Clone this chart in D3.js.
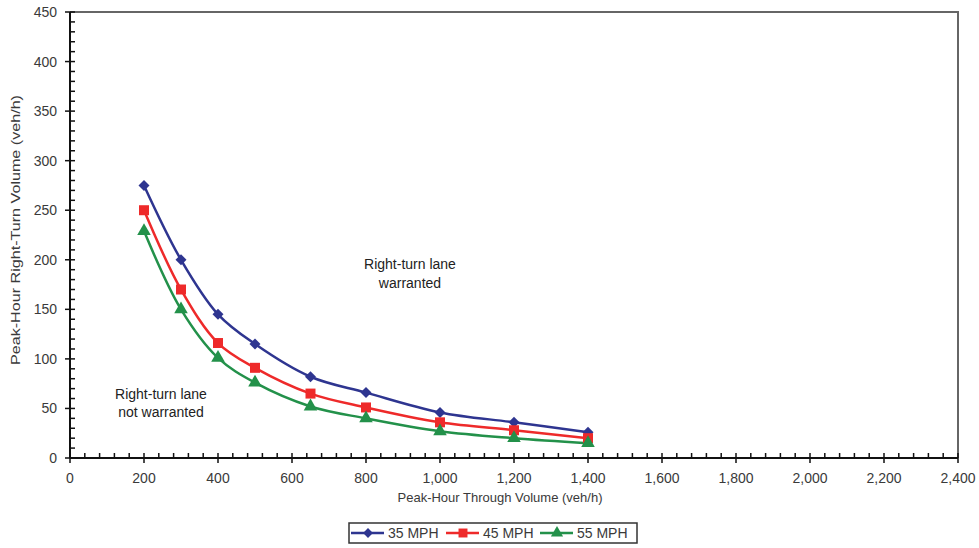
<!DOCTYPE html>
<html><head><meta charset="utf-8">
<script src="https://cdn.jsdelivr.net/npm/d3@7"></script>
<style>body{margin:0;background:#fff}svg{display:block;font-family:"Liberation Sans",Arial,sans-serif}</style>
</head><body><svg id="c" width="979" height="548"></svg>
<script>
const throughVolume = [200, 300, 400, 500, 650, 800, 1000, 1200, 1400];
const mph35 = [275, 200, 145, 115, 82, 66, 46, 36, 26];
const mph45 = [250, 170, 116, 91, 65, 51, 36, 28, 20];
const mph55 = [229, 150, 101, 76, 52, 40, 27, 20, 15];
const seriesNames = ["35 MPH", "45 MPH", "55 MPH"];
const xTicks = [0,200,400,600,800,1000,1200,1400,1600,1800,2000,2200,2400];
const yTicks = [0,50,100,150,200,250,300,350,400,450];

const svg = d3.select("#c");
const L=70, R=958, T=12, B=458;
const x = d3.scaleLinear().domain([0,2400]).range([L,R]);
const y = d3.scaleLinear().domain([0,450]).range([B,T]);
const txt = "#3a3a3a";

// frame
svg.append("path").attr("d",`M${L},${T}H${R}V${B}`).attr("fill","none").attr("stroke","#666").attr("stroke-width",2);

// y axis
const yMinor = d3.range(0,451,10).filter(v=>v%50!==0);
svg.append("g").selectAll("line").data(yMinor).join("line")
  .attr("x1",L).attr("x2",L+5).attr("y1",d=>y(d)).attr("y2",d=>y(d)).attr("stroke","#111").attr("stroke-width",1.5);
svg.append("g").selectAll("line").data(yTicks).join("line")
  .attr("x1",L-5).attr("x2",L+5).attr("y1",d=>y(d)).attr("y2",d=>y(d)).attr("stroke","#111").attr("stroke-width",1.5);
svg.append("g").selectAll("text").data(yTicks).join("text")
  .attr("x",L-13).attr("y",d=>y(d)+5).attr("text-anchor","end").attr("font-size",14).attr("fill",txt).text(d=>d);
// x axis
const xMinor = d3.range(0,2401,40).filter(v=>v%200!==0);
svg.append("g").selectAll("line").data(xMinor).join("line")
  .attr("y1",B).attr("y2",B-5).attr("x1",d=>x(d)).attr("x2",d=>x(d)).attr("stroke","#111").attr("stroke-width",1.5);
svg.append("g").selectAll("line").data(xTicks).join("line")
  .attr("y1",B-5).attr("y2",B+5).attr("x1",d=>x(d)).attr("x2",d=>x(d)).attr("stroke","#111").attr("stroke-width",1.5);
svg.append("g").selectAll("text").data(xTicks).join("text")
  .attr("x",d=>x(d)).attr("y",B+25).attr("text-anchor","middle").attr("font-size",14).attr("fill",txt).text(d=>d3.format(",")(d));
svg.append("line").attr("x1",L).attr("x2",L).attr("y1",T).attr("y2",B).attr("stroke","#111").attr("stroke-width",2);
svg.append("line").attr("x1",L).attr("x2",R).attr("y1",B).attr("y2",B).attr("stroke","#111").attr("stroke-width",2);

// titles
svg.append("text").attr("x",500).attr("y",502).attr("text-anchor","middle").attr("font-size",13).attr("fill",txt).text("Peak-Hour Through Volume (veh/h)");
svg.append("text").attr("transform","translate(20,230) rotate(-90)").attr("text-anchor","middle").attr("font-size",12.5)
  .attr("textLength",270).attr("lengthAdjust","spacingAndGlyphs").attr("fill",txt).text("Peak-Hour Right-Turn Volume (veh/h)");

// annotations
const ann = svg.append("g").attr("font-size",14).attr("fill","#222").attr("text-anchor","middle");
ann.append("text").attr("x",410).attr("y",269).text("Right-turn lane");
ann.append("text").attr("x",410).attr("y",288).text("warranted");
ann.append("text").attr("x",161).attr("y",399).text("Right-turn lane");
ann.append("text").attr("x",161).attr("y",417).text("not warranted");

// series
const series = [
  {name:seriesNames[0], vals:mph35, color:"#2e3590", sym:d3.symbolSquare, size:60, rot:45},
  {name:seriesNames[1], vals:mph45, color:"#ee2a2a", sym:d3.symbolSquare, size:100, rot:0},
  {name:seriesNames[2], vals:mph55, color:"#23914a", sym:d3.symbolTriangle, size:80, rot:0}
];
const line = d3.line().x(d=>x(d[0])).y(d=>y(d[1])).curve(d3.curveCatmullRom);
series.forEach(s=>{
  const pts = throughVolume.map((v,i)=>[v,s.vals[i]]);
  svg.append("path").attr("d",line(pts)).attr("fill","none").attr("stroke",s.color).attr("stroke-width",2.5);
});
series.forEach(s=>{
  const pts = throughVolume.map((v,i)=>[v,s.vals[i]]);
  svg.append("g").selectAll("path").data(pts).join("path")
    .attr("d",d3.symbol().type(s.sym).size(s.size))
    .attr("transform",d=>`translate(${x(d[0])},${y(d[1])}) rotate(${s.rot})`).attr("fill",s.color);
});

// legend
const lg = svg.append("g");
lg.append("rect").attr("x",349).attr("y",523).attr("width",288).attr("height",20).attr("fill","#fff").attr("stroke","#333").attr("stroke-width",1.5);
const lx = [351, 446, 540];
series.forEach((s,i)=>{
  lg.append("line").attr("x1",lx[i]).attr("x2",lx[i]+33).attr("y1",533).attr("y2",533).attr("stroke",s.color).attr("stroke-width",2.5);
  lg.append("path").attr("d",d3.symbol().type(s.sym).size(s.size*0.8)).attr("transform",`translate(${lx[i]+17},533) rotate(${s.rot})`).attr("fill",s.color);
  lg.append("text").attr("x",lx[i]+37).attr("y",538).attr("font-size",14).attr("fill",txt).text(s.name);
});
</script></body></html>
